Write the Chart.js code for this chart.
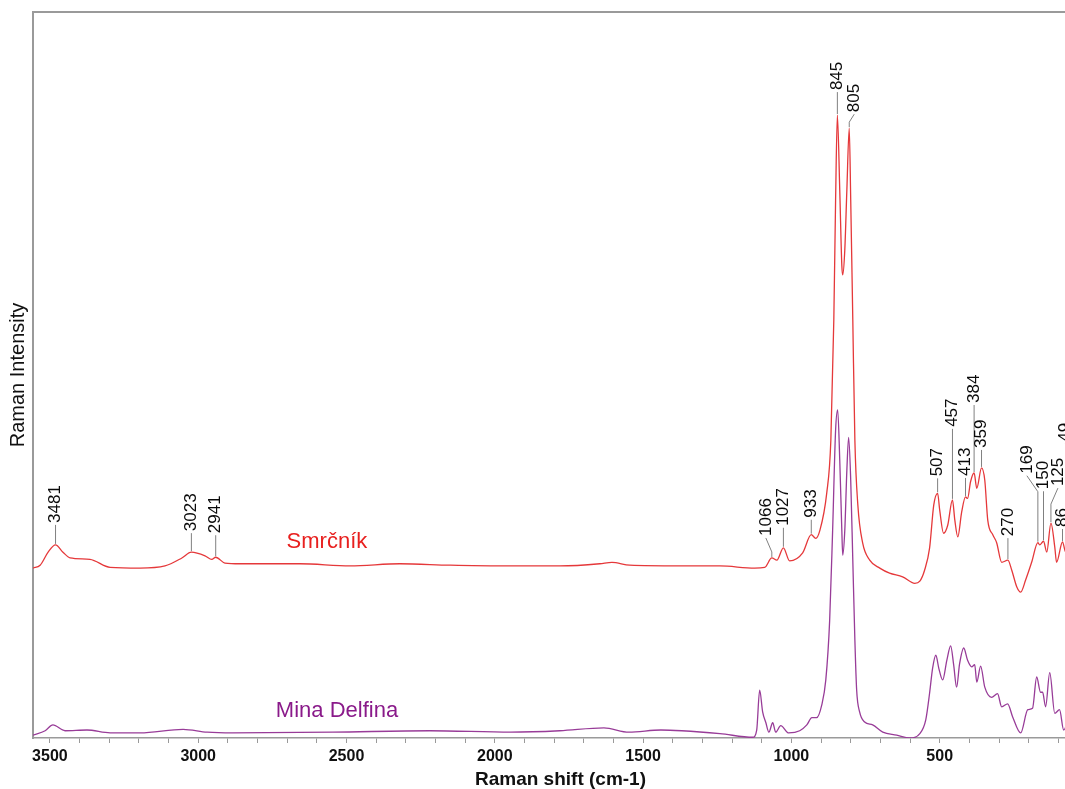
<!DOCTYPE html>
<html>
<head>
<meta charset="utf-8">
<title>Raman spectra</title>
<script src="https://cdn.jsdelivr.net/npm/chart.js@4.4.1/dist/chart.umd.min.js"></script>
<style>
  html, body { margin: 0; padding: 0; background: #fff; overflow: hidden; }
  #wrap { width: 1065px; height: 789px; overflow: hidden; position: relative; }
  canvas { display: block; }
</style>
</head>
<body>
<div id="wrap"><canvas id="raman" width="1100" height="800"></canvas></div>
<script>
/* ====== Data ====== */
const smrcnikShift = [3557, 3533, 3506, 3481, 3456, 3432, 3365, 3297, 3196, 3112, 3055, 3023, 2977, 2954, 2941, 2910,
  2859, 2657, 2488, 2320, 2151, 1983, 1781, 1646, 1605, 1545, 1376, 1241, 1124, 1090, 1066, 1049, 1027, 1006, 962, 933,
  918, 904, 881, 867, 857, 851, 845, 837, 830, 827, 820, 813, 805, 800, 793, 786, 776, 760, 736, 702, 669, 625, 584, 567,
  551, 534, 520, 507, 500, 487, 473, 457, 449, 439, 426, 413, 406, 396, 384, 375, 359, 348, 338, 321, 308, 291, 270, 257,
  240, 227, 210, 190, 169, 163, 150, 139, 125, 112, 106, 86, 75, 62, 49, 32, 0];
const smrcnikInt = [23.4, 23.8, 25.6, 26.6, 25.6, 24.8, 24.6, 23.5, 23.4, 23.7, 24.8, 25.6, 25.1, 24.6, 24.9, 24.1,
  24.0, 24.0, 23.7, 24.0, 23.8, 23.7, 23.7, 24.0, 24.2, 23.8, 23.7, 23.7, 23.4, 23.5, 24.8, 24.5, 26.2, 24.4, 25.5, 28.0,
  27.5, 28.6, 33.7, 41.0, 57.6, 74.1, 85.8, 75.5, 65.1, 63.8, 67.2, 75.5, 84.0, 74.1, 57.6, 41.0, 32.1, 26.9, 24.5, 23.4,
  22.7, 22.2, 21.3, 21.6, 23.1, 26.2, 32.1, 33.7, 31.4, 28.2, 29.3, 32.8, 30.0, 27.7, 31.1, 33.2, 33.0, 35.3, 36.5, 34.4,
  37.2, 35.5, 30.0, 28.0, 26.9, 24.2, 24.5, 23.1, 20.8, 20.1, 21.8, 24.2, 26.9, 26.6, 27.1, 25.6, 29.6, 26.3, 24.2, 27.0,
  25.6, 30.0, 33.5, 27.3, 25.0];

const delfinaShift = [3557, 3516, 3490, 3449, 3375, 3297, 3196, 3051, 2970, 2883, 2546, 2219, 1946, 1781, 1632, 1548,
  1440, 1370, 1241, 1130, 1117, 1107, 1097, 1086, 1076, 1063, 1053, 1036, 1009, 972, 948, 931, 915, 898, 884, 871, 861,
  851, 844, 837, 830, 827, 820, 813, 807, 800, 793, 786, 780, 770, 753, 726, 692, 645, 601, 567, 547, 534, 524, 513, 503,
  490, 476, 463, 453, 443, 433, 419, 406, 392, 382, 375, 362, 348, 325, 305, 291, 271, 254, 227, 203, 187, 173, 160, 153,
  143, 129, 112, 96, 82, 62, 42, 0];
const delfinaInt = [0.4, 1.0, 1.8, 1.0, 1.1, 0.7, 0.7, 1.2, 0.8, 0.7, 0.8, 1.0, 0.8, 1.0, 1.4, 0.8,
  1.1, 1.0, 0.6, 0.1, 1.1, 6.6, 3.6, 2.1, 0.8, 2.1, 0.8, 1.7, 0.7, 1.0, 1.8, 2.8, 2.8, 4.5, 8.0, 16.2, 28.6,
  42.4, 45.2, 38.3, 28.6, 25.2, 28.6, 36.9, 41.4, 35.5, 24.5, 13.5, 6.6, 3.6, 2.2, 1.8, 0.8, 0.4, 0.0, 0.6, 2.5, 6.2, 9.6,
  11.4, 9.6, 8.0, 10.7, 12.7, 10.1, 7.0, 10.2, 12.4, 10.7, 9.8, 10.1, 7.7, 9.9, 7.0, 5.6, 6.1, 4.3, 4.7, 2.9, 0.7, 3.9,
  4.1, 8.4, 6.3, 6.3, 4.3, 9.0, 3.4, 3.9, 1.1, 3.2, 5.2, 2.0];

const peakLabels = [3481, 3023, 2941, 1066, 1027, 933, 845, 805, 507, 457, 413, 384, 359, 270, 169, 150, 125, 86, 49];
const majorTicks = [3500, 3000, 2500, 2000, 1500, 1000, 500];
const seriesNames = ["Smrčník", "Mina Delfina"];

/* ====== Look ====== */
const FONT = '"Liberation Sans", Arial, sans-serif';
const RED = "#e5383a";
const PURPLE = "#983c98";
const AXIS_GREY = "#9a9a9a";

// leader length (px) above each peak, and sideways shift of the label where they crowd
const labelLift = { 3481: 20, 3023: 19, 2941: 22, 1066: 20, 1027: 20, 933: 15, 845: 23, 805: 14,
  507: 15, 457: 71, 413: 19, 384: 68, 359: 18, 270: 22, 169: 67, 150: 50, 125: 35, 86: 13, 49: 51 };
const labelShift = { 1066: -6, 805: 5, 169: -11, 125: 7, 49: -8 };

function valueAt(xs, ys, v) {
  for (let i = 0; i < xs.length - 1; i++) {
    const a = xs[i], b = xs[i + 1];
    if ((v <= a && v >= b) || (v >= a && v <= b)) {
      const t = a === b ? 0 : (v - a) / (b - a);
      return ys[i] + t * (ys[i + 1] - ys[i]);
    }
  }
  return ys[ys.length - 1];
}

/* ====== Plugins ====== */
const frameTop = {
  id: "frameTop",
  afterDraw(chart) {
    const { ctx, chartArea } = chart;
    ctx.save();
    ctx.strokeStyle = AXIS_GREY;
    ctx.lineWidth = 2;
    ctx.beginPath();
    ctx.moveTo(chartArea.left, chartArea.top);
    ctx.lineTo(chartArea.right, chartArea.top);
    ctx.stroke();
    ctx.restore();
  }
};

const peakMarks = {
  id: "peakMarks",
  afterDatasetsDraw(chart) {
    const { ctx, scales: { x, y } } = chart;
    ctx.save();
    peakLabels.forEach(v => {
      const px = x.getPixelForValue(v);
      const py = y.getPixelForValue(valueAt(smrcnikShift, smrcnikInt, v));
      const top = py - (labelLift[v] || 18);
      const dx = labelShift[v] || 0;

      ctx.strokeStyle = "#808080";
      ctx.lineWidth = 1;
      ctx.beginPath();
      ctx.moveTo(px, py - 1);
      if (dx) {
        ctx.lineTo(px, top + Math.min(16, (labelLift[v] || 18) - 6));
        ctx.lineTo(px + dx, top);
      } else {
        ctx.lineTo(px, top);
      }
      ctx.stroke();

      ctx.save();
      ctx.translate(px + dx, top - 2);
      ctx.rotate(-Math.PI / 2);
      ctx.fillStyle = "#0a0a0a";
      ctx.font = "17px " + FONT;
      ctx.textAlign = "left";
      ctx.textBaseline = "middle";
      ctx.fillText(String(v), 0, 0);
      ctx.restore();
    });

    // series names next to their traces
    ctx.textAlign = "center";
    ctx.textBaseline = "alphabetic";
    ctx.font = "22px " + FONT;
    ctx.fillStyle = "#e8201f";
    ctx.fillText(seriesNames[0], x.getPixelForValue(2566), y.getPixelForValue(26.2));
    ctx.fillStyle = "#8a1a8a";
    ctx.fillText(seriesNames[1], x.getPixelForValue(2532), y.getPixelForValue(2.9));
    ctx.restore();
  }
};

/* ====== Chart ====== */
const toPoints = (xs, ys) => xs.map((v, i) => ({ x: v, y: ys[i] }));

new Chart(document.getElementById("raman"), {
  type: "line",
  data: {
    datasets: [
      {
        label: seriesNames[0],
        data: toPoints(smrcnikShift, smrcnikInt),
        borderColor: RED,
        borderWidth: 1.3,
        pointRadius: 0,
        cubicInterpolationMode: "monotone"
      },
      {
        label: seriesNames[1],
        data: toPoints(delfinaShift, delfinaInt),
        borderColor: PURPLE,
        borderWidth: 1.3,
        pointRadius: 0,
        cubicInterpolationMode: "monotone"
      }
    ]
  },
  options: {
    responsive: false,
    animation: false,
    devicePixelRatio: 1,
    layout: { padding: { top: 12, right: 12, left: 0, bottom: 0 } },
    plugins: { legend: { display: false }, tooltip: { enabled: false } },
    scales: {
      x: {
        type: "linear",
        reverse: true,
        min: 0,
        max: 3557,
        ticks: {
          stepSize: 100,
          autoSkip: false,
          includeBounds: false,
          maxRotation: 0,
          color: "#111",
          padding: 4,
          font: { family: FONT, size: 16, weight: "bold" },
          callback: v => (majorTicks.includes(v) ? String(v) : "")
        },
        grid: { display: true, drawOnChartArea: false, drawTicks: true, tickLength: 5, color: AXIS_GREY },
        border: { display: true, color: AXIS_GREY, width: 1.5 },
        title: {
          display: true,
          text: "Raman shift (cm-1)",
          color: "#111",
          font: { family: FONT, size: 19, weight: "bold" },
          padding: { top: 0, bottom: 9 }
        },
        afterFit: s => { s.height = 62; }
      },
      y: {
        min: 0,
        max: 100,
        ticks: { display: false },
        grid: { display: false },
        border: { display: true, color: AXIS_GREY, width: 2 },
        title: {
          display: true,
          text: "Raman Intensity",
          color: "#111",
          font: { family: FONT, size: 20 },
          padding: { top: 6, bottom: 0 }
        },
        afterFit: s => { s.width = 33; }
      }
    }
  },
  plugins: [frameTop, peakMarks]
});
</script>
</body>
</html>
